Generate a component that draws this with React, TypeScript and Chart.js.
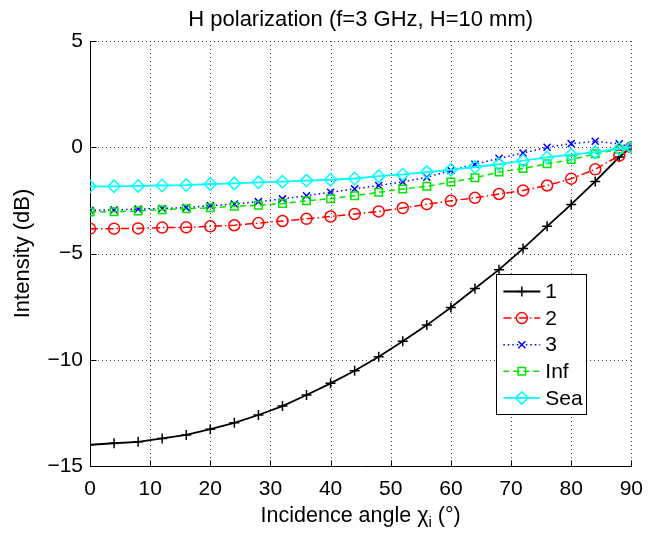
import React, { useEffect, useRef } from "react";
import { Chart, registerables } from "chart.js";

Chart.register(...registerables);

const FONT = '"Liberation Sans", Arial, Helvetica, sans-serif';

const TITLE = "H polarization (f=3 GHz, H=10 mm)";
const Y_TITLE = "Intensity (dB)";
const X_TITLE_MAIN = "Incidence angle χ";
const X_TITLE_SUB = "i";
const X_TITLE_END = " (°)";

const angles = [0, 4, 8, 12, 16, 20, 24, 28, 32, 36, 40, 44, 48, 52, 56, 60, 64, 68, 72, 76, 80, 84, 88, 90];

const series1 = [-14.0, -13.93, -13.86, -13.7, -13.54, -13.27, -12.97, -12.6, -12.18, -11.66, -11.11, -10.52, -9.86, -9.13, -8.37, -7.54, -6.65, -5.76, -4.77, -3.72, -2.69, -1.61, -0.46, 0];
const series2 = [-3.83, -3.83, -3.82, -3.78, -3.77, -3.72, -3.67, -3.57, -3.47, -3.37, -3.26, -3.14, -3.02, -2.86, -2.68, -2.52, -2.38, -2.2, -2.03, -1.8, -1.48, -1.04, -0.39, 0];
const series3 = [-2.97, -2.95, -2.91, -2.88, -2.84, -2.75, -2.67, -2.56, -2.43, -2.28, -2.12, -1.96, -1.8, -1.63, -1.41, -1.09, -0.8, -0.52, -0.27, 0, 0.17, 0.28, 0.16, 0];
const seriesInf = [-3.05, -3.03, -3.0, -2.94, -2.89, -2.85, -2.78, -2.73, -2.65, -2.52, -2.42, -2.28, -2.12, -1.96, -1.84, -1.64, -1.44, -1.17, -1.0, -0.78, -0.58, -0.31, -0.1, 0];
const seriesSea = [-1.84, -1.84, -1.82, -1.8, -1.78, -1.73, -1.7, -1.65, -1.62, -1.57, -1.53, -1.47, -1.36, -1.28, -1.17, -1.06, -0.93, -0.8, -0.63, -0.48, -0.35, -0.23, -0.07, 0];

const seriesLabels = ["1", "2", "3", "Inf", "Sea"];
const seriesValues = [series1, series2, series3, seriesInf, seriesSea];
const seriesColors = ["#000000", "#ff0000", "#0000ff", "#00e600", "#00ffff"];
const seriesDash = [[], [8, 3, 1.5, 3], [1.5, 3], [6, 4], []];
const seriesMarkers = ["cross", "circle", "crossRot", "rect", "rectRot"];
const seriesMarkerRadius = [5, 5.5, 5, 5.3, 6.2];
const seriesLineWidth = [1.8, 1.5, 1.5, 1.5, 1.8];

const xTicks = [0, 10, 20, 30, 40, 50, 60, 70, 80, 90];
const yTicks = [-15, -10, -5, 0, 5];

function drawMarker(ctx: CanvasRenderingContext2D, style: string, x: number, y: number, r: number) {
  ctx.beginPath();
  if (style === "cross") {
    ctx.moveTo(x - r, y); ctx.lineTo(x + r, y);
    ctx.moveTo(x, y - r); ctx.lineTo(x, y + r);
  } else if (style === "crossRot") {
    const o = r * Math.SQRT1_2;
    ctx.moveTo(x - o, y - o); ctx.lineTo(x + o, y + o);
    ctx.moveTo(x + o, y - o); ctx.lineTo(x - o, y + o);
  } else if (style === "circle") {
    ctx.arc(x, y, r, 0, Math.PI * 2);
  } else if (style === "rect") {
    const s = r * Math.SQRT1_2;
    ctx.rect(x - s, y - s, 2 * s, 2 * s);
  } else if (style === "rectRot") {
    ctx.moveTo(x - r, y); ctx.lineTo(x, y - r); ctx.lineTo(x + r, y); ctx.lineTo(x, y + r); ctx.closePath();
  }
  ctx.stroke();
}

const decor = {
  id: "matlabDecor",
  beforeDatasetsDraw(chart: any) {
    const { ctx, chartArea: a, scales } = chart;
    const xs = scales.x, ys = scales.y;
    ctx.save();
    ctx.strokeStyle = "#444";
    ctx.lineWidth = 1;
    ctx.setLineDash([1, 3]);
    for (const v of xTicks) {
      if (v === xTicks[0]) continue;
      const px = Math.round(xs.getPixelForValue(v)) + 0.5;
      ctx.beginPath(); ctx.moveTo(px, a.top); ctx.lineTo(px, a.bottom); ctx.stroke();
    }
    for (const v of yTicks) {
      if (v === yTicks[0]) continue;
      const py = Math.round(ys.getPixelForValue(v)) + 0.5;
      ctx.beginPath(); ctx.moveTo(a.left, py); ctx.lineTo(a.right, py); ctx.stroke();
    }
    ctx.setLineDash([]);
    ctx.strokeStyle = "#000";
    const L = Math.round(a.left) + 0.5;
    const B = Math.round(a.bottom) + 0.5;
    ctx.beginPath(); ctx.moveTo(L, Math.round(a.top)); ctx.lineTo(L, B); ctx.lineTo(Math.round(a.right) + 1, B); ctx.stroke();
    const tl = 6;
    for (const v of xTicks) {
      const px = Math.round(xs.getPixelForValue(v)) + 0.5;
      ctx.beginPath(); ctx.moveTo(px, B); ctx.lineTo(px, B - tl); ctx.stroke();
    }
    for (const v of yTicks) {
      const py = Math.round(ys.getPixelForValue(v)) + 0.5;
      ctx.beginPath(); ctx.moveTo(L, py); ctx.lineTo(L + tl, py); ctx.stroke();
    }
    ctx.restore();
  },
  afterDraw(chart: any) {
    const { ctx, chartArea: a } = chart;
    const cx = (a.left + a.right) / 2;
    const cy = (a.top + a.bottom) / 2;
    ctx.save();
    ctx.fillStyle = "#000";
    // title
    ctx.font = `22px ${FONT}`;
    ctx.textAlign = "center";
    ctx.textBaseline = "alphabetic";
    ctx.fillText(TITLE, cx, 26);
    // y title
    ctx.save();
    ctx.translate(23, cy);
    ctx.rotate(-Math.PI / 2);
    ctx.font = `22px ${FONT}`;
    ctx.textBaseline = "middle";
    ctx.fillText(Y_TITLE, 0, 0);
    ctx.restore();
    // x title with subscript
    ctx.textAlign = "left";
    ctx.textBaseline = "alphabetic";
    const big = `21.5px ${FONT}`, small = `15px ${FONT}`;
    ctx.font = big;
    const w1 = ctx.measureText(X_TITLE_MAIN).width;
    const w3 = ctx.measureText(X_TITLE_END).width;
    ctx.font = small;
    const w2 = ctx.measureText(X_TITLE_SUB).width;
    let x0 = cx - (w1 + w2 + w3) / 2;
    const base = 522;
    ctx.font = big;
    ctx.fillText(X_TITLE_MAIN, x0, base);
    x0 += w1;
    ctx.font = small;
    ctx.fillText(X_TITLE_SUB, x0, base + 5);
    x0 += w2;
    ctx.font = big;
    ctx.fillText(X_TITLE_END, x0, base);

    // legend
    const lx = a.right - 135, ly = a.top + 233, lw = 90, lh = 140;
    ctx.fillStyle = "#fff";
    ctx.fillRect(lx, ly, lw, lh);
    ctx.strokeStyle = "#000";
    ctx.lineWidth = 1;
    ctx.strokeRect(Math.round(lx) + 0.5, Math.round(ly) + 0.5, lw, lh);
    ctx.font = `21px ${FONT}`;
    ctx.textBaseline = "middle";
    ctx.textAlign = "left";
    for (let i = 0; i < seriesLabels.length; i++) {
      const ry = ly + 17.5 + i * 26.6;
      ctx.strokeStyle = seriesColors[i];
      ctx.lineWidth = seriesLineWidth[i];
      ctx.setLineDash(seriesDash[i]);
      ctx.beginPath(); ctx.moveTo(lx + 7, ry); ctx.lineTo(lx + 44, ry); ctx.stroke();
      ctx.setLineDash([]);
      ctx.lineWidth = 1.5;
      drawMarker(ctx, seriesMarkers[i], lx + 25.5, ry, seriesMarkerRadius[i]);
      ctx.fillStyle = "#000";
      ctx.fillText(seriesLabels[i], lx + 49, ry + 1);
    }
    ctx.restore();
  },
};

export default function App() {
  const ref = useRef<HTMLCanvasElement>(null);
  useEffect(() => {
    if (!ref.current) return;
    const datasets = seriesLabels.map((label, i) => ({
      label,
      data: angles.map((a, j) => ({ x: a, y: seriesValues[i][j] })),
      borderColor: seriesColors[i],
      borderWidth: seriesLineWidth[i],
      borderDash: seriesDash[i],
      pointStyle: seriesMarkers[i],
      pointRadius: seriesMarkerRadius[i],
      pointBorderWidth: 1.5,
      pointBorderColor: seriesColors[i],
      pointBackgroundColor: "rgba(0,0,0,0)",
      fill: false,
      tension: 0,
      order: seriesLabels.length - i,
    }));
    const chart = new Chart(ref.current, {
      type: "line",
      data: { datasets },
      plugins: [decor],
      options: {
        animation: false,
        responsive: false,
        events: [],
        layout: { padding: { top: 41, right: 22, left: 0, bottom: 0 } },
        plugins: { legend: { display: false }, title: { display: false }, tooltip: { enabled: false } },
        scales: {
          x: {
            type: "linear",
            min: 0,
            max: 90,
            afterFit: (s: any) => { s.height = 67; },
            afterBuildTicks: (s: any) => { s.ticks = xTicks.map((v) => ({ value: v })); },
            ticks: { color: "#000", font: { family: FONT, size: 21 }, padding: 11, maxRotation: 0, autoSkip: false },
            grid: { display: false, drawTicks: false },
            border: { display: false },
          },
          y: {
            type: "linear",
            min: -15,
            max: 5,
            afterFit: (s: any) => { s.width = 90; },
            afterBuildTicks: (s: any) => { s.ticks = yTicks.map((v) => ({ value: v })); },
            ticks: {
              color: "#000",
              font: { family: FONT, size: 21 },
              padding: 7,
              callback: (v: any) => String(v).replace("-", "\u2212"),
            },
            grid: { display: false, drawTicks: false },
            border: { display: false },
          },
        },
      },
    });
    return () => chart.destroy();
  }, []);
  return (
    <div style={{ position: "fixed", left: 0, top: 0, width: 654, height: 533, background: "#fff" }}>
      <canvas ref={ref} width={654} height={533} style={{ width: 654, height: 533 }} />
    </div>
  );
}
